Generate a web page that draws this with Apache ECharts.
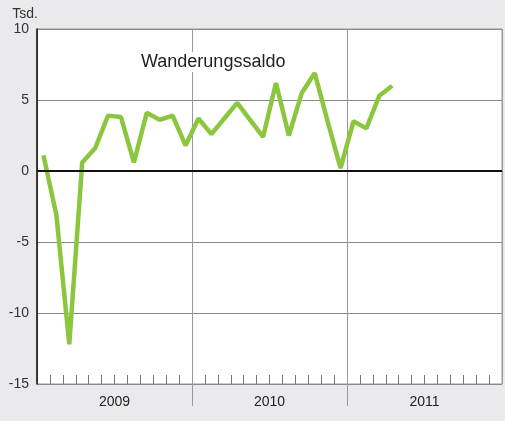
<!DOCTYPE html>
<html>
<head>
<meta charset="utf-8">
<script src="https://cdn.jsdelivr.net/npm/echarts@6/dist/echarts.min.js"></script>
<style>
  html, body { margin: 0; padding: 0; background: #eaeaec; }
  #chart { width: 505px; height: 421px; }
</style>
</head>
<body>
<div id="chart"></div>
<script>
// monthly migration balance, thousands
const years = ['2009', '2010', '2011']
const months = []
years.forEach(y => { for (let m = 1; m <= 12; m++) months.push(y + '-' + String(m).padStart(2, '0')) })
const saldo = [1.1, -3.1, -12.2, 0.6, 1.6, 3.9, 3.8, 0.6, 4.1, 3.6, 3.9, 1.8,
               3.7, 2.6, 3.7, 4.8, 3.6, 2.4, 6.2, 2.5, 5.5, 6.9, 3.5, 0.2,
               3.5, 3.0, 5.3, 6.0]
const yTicks = { min: -15, max: 10, step: 5 }
const yearMid = [6, 18, 30]
const yearEdge = [12, 24]
// month boundaries that are not year boundaries
const monthEdge = []
for (let i = 1; i < months.length; i++) if (i % 12 !== 0) monthEdge.push(i)

const font = 'Liberation Sans, Arial, sans-serif'
const chart = echarts.init(document.getElementById('chart'))

chart.setOption({
  backgroundColor: '#eaeaec',
  animation: false,
  title: {
    text: 'Wanderungssaldo', left: 137, top: 52, padding: [1, 4],
    backgroundColor: '#fff',
    textStyle: { fontFamily: font, fontSize: 18, fontWeight: 'normal', color: '#222' },
  },
  grid: {
    left: 37, right: 3, top: 29, bottom: 37, outerBoundsMode: 'none',
    show: true, backgroundColor: '#fff', borderColor: '#999', borderWidth: 1,
  },
  xAxis: [
    {
      type: 'category', data: months, boundaryGap: true,
      axisLine: { lineStyle: { color: '#444', width: 1 } },
      axisTick: { show: false },
      axisLabel: { show: false },
      splitLine: { show: true, interval: i => i % 12 === 0, lineStyle: { color: '#999', width: 1 } },
    },
    {
      type: 'value', min: 0, max: 36, position: 'bottom',
      axisLine: { show: false },
      axisTick: { show: true, customValues: yearEdge, length: 22, lineStyle: { color: '#999' } },
      axisLabel: {
        customValues: yearMid, margin: 11,
        formatter: v => years[yearMid.indexOf(v)],
        fontFamily: font, fontSize: 14, color: '#222',
      },
      splitLine: { show: false },
    },
    {
      type: 'value', min: 0, max: 36, position: 'bottom',
      axisLine: { show: false },
      axisTick: { show: true, inside: true, customValues: monthEdge, length: 9, lineStyle: { color: '#777' } },
      axisLabel: { show: false },
      splitLine: { show: false },
    },
  ],
  yAxis: {
    type: 'value', min: yTicks.min, max: yTicks.max, interval: yTicks.step,
    name: 'Tsd.', nameLocation: 'end', nameGap: 8,
    nameTextStyle: { fontFamily: font, fontSize: 14, color: '#333', align: 'right', padding: [0, -1, 0, 0] },
    axisLine: { show: true, lineStyle: { color: '#111', width: 1.5 } },
    axisTick: { show: false },
    axisLabel: { fontFamily: font, fontSize: 14, color: '#333', margin: 8 },
    splitLine: { lineStyle: { color: '#888', width: 1 } },
  },
  series: [{
    type: 'line', data: saldo, xAxisIndex: 0, showSymbol: false,
    lineStyle: { color: '#8cc63f', width: 4.5 },
    markLine: {
      silent: true, symbol: 'none', label: { show: false },
      lineStyle: { color: '#111', width: 2, type: 'solid' },
      data: [{ yAxis: 0 }],
    },
    z: 3,
  }],
})
</script>
</body>
</html>
